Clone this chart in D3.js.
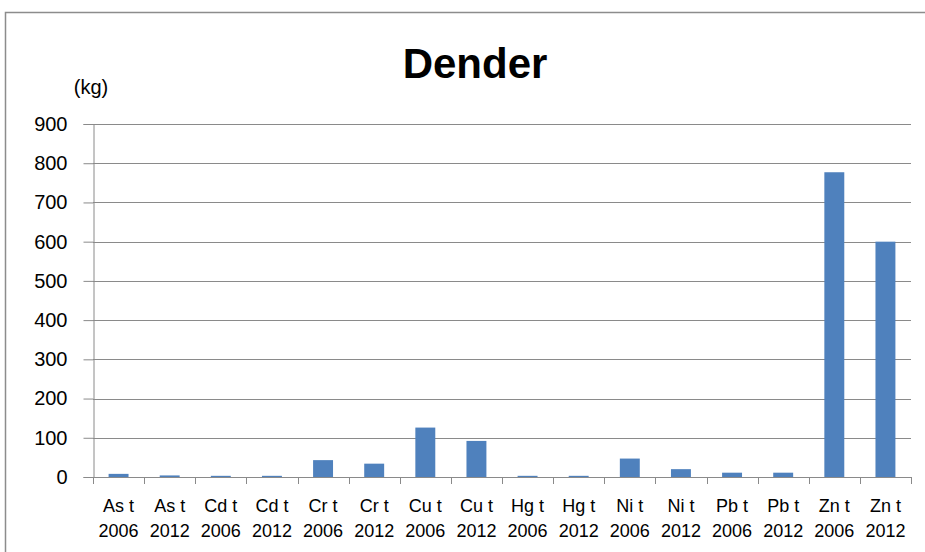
<!DOCTYPE html>
<html><head><meta charset="utf-8">
<script src="https://cdn.jsdelivr.net/npm/d3@7"></script>
<style>body{margin:0;background:#fff}svg{display:block}text{font-family:"Liberation Sans",Arial,sans-serif}</style>
</head><body><div id="chart"></div>
<script>
const elements = ["As t","As t","Cd t","Cd t","Cr t","Cr t","Cu t","Cu t","Hg t","Hg t","Ni t","Ni t","Pb t","Pb t","Zn t","Zn t"];
const years = ["2006","2012","2006","2012","2006","2012","2006","2012","2006","2012","2006","2012","2006","2012","2006","2012"];
const values = [8,4,3,3,43,34,126,92,3,3,47,20,11,11,777,600];
const yTicks = [0,100,200,300,400,500,600,700,800,900];

(function(){
const W = 925, H = 552;
const svg = d3.select("#chart").append("svg").attr("width", W).attr("height", H);
svg.append("rect").attr("x",5.5).attr("y",12.5).attr("width",930).attr("height",560)
  .attr("fill","#fff").attr("stroke","#8c8c8c").attr("stroke-width",1.5);

const pLeft = 93, pRight = 911, pTop = 124, pBottom = 477;
const keys = d3.range(values.length);
const x = d3.scaleBand().domain(keys).range([pLeft, pRight]).paddingInner(0.61).paddingOuter(0.305);
const y = d3.scaleLinear().domain([0, 900]).range([pBottom, pTop]);

// gridlines
svg.append("g").selectAll("line").data(yTicks.filter(d => d > 0)).join("line")
  .attr("x1", pLeft).attr("x2", pRight)
  .attr("y1", d => Math.round(y(d)) + 0.5).attr("y2", d => Math.round(y(d)) + 0.5)
  .attr("stroke", "#8a8a8a").attr("stroke-width", 1);

// y axis
const yAxis = svg.append("g").attr("transform", `translate(${pLeft + 0.5},0)`)
  .call(d3.axisLeft(y).tickValues(yTicks).tickSize(10).tickPadding(16).tickFormat(d3.format("d")));
yAxis.select(".domain").attr("stroke", "#8a8a8a");
yAxis.selectAll(".tick line").attr("stroke", "#8a8a8a");
yAxis.selectAll(".tick text").attr("font-size", 20).attr("fill", "#000")
  .attr("font-family", '"Liberation Sans", Arial, sans-serif');

// bars
svg.append("g").selectAll("rect").data(values).join("rect")
  .attr("x", (d, i) => x(i)).attr("width", x.bandwidth())
  .attr("y", d => y(d)).attr("height", d => pBottom - y(d))
  .attr("fill", "#4F81BD");

// x axis
const xg = svg.append("g");
xg.append("line").attr("x1", pLeft).attr("x2", pRight).attr("y1", pBottom + 0.5).attr("y2", pBottom + 0.5)
  .attr("stroke", "#8a8a8a");
const boundaries = d3.range(values.length + 1).map(i => pLeft + i * (pRight - pLeft) / values.length);
xg.selectAll("line.tk").data(boundaries).join("line").attr("class","tk")
  .attr("x1", d => Math.round(d) + 0.5).attr("x2", d => Math.round(d) + 0.5)
  .attr("y1", pBottom).attr("y2", pBottom + 7).attr("stroke", "#8a8a8a");
const lab = xg.selectAll("text.lab").data(keys).join("text").attr("class","lab")
  .attr("text-anchor","middle").attr("font-size", 18).attr("fill","#000");
lab.append("tspan").attr("x", i => x(i) + x.bandwidth()/2).attr("y", 512).text(i => elements[i]);
lab.append("tspan").attr("x", i => x(i) + x.bandwidth()/2).attr("y", 537).text(i => years[i]);

// title
svg.append("text").attr("x", 475).attr("y", 78).attr("text-anchor","middle")
  .attr("font-size", 42).attr("font-weight","bold").attr("fill","#000").text("Dender");
svg.append("text").attr("x", 91).attr("y", 94).attr("text-anchor","middle")
  .attr("font-size", 20).attr("fill","#000").text("(kg)");
})();
</script></body></html>
